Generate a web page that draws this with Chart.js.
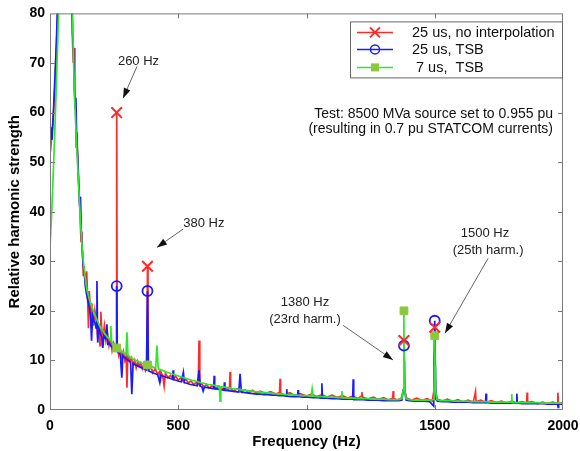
<!DOCTYPE html>
<html>
<head>
<meta charset="utf-8">
<script src="https://cdn.jsdelivr.net/npm/chart.js@4.4.1/dist/chart.umd.min.js"></script>
<style>
  html, body { margin: 0; padding: 0; background: #fff; }
  canvas { display: block; }
</style>
</head>
<body>
<canvas id="chart" width="580" height="451"></canvas>
<script>
// spectra, [frequency Hz, relative strength]
const red = [
  [0,55],[4,53.5],[8,56],[14,60],[20,66],[26,74],[32,84],[45,150],[60,400],[75,150],[84,86],[88,74],[91,70],[94,73],
  [97,62],[100,60],[102,53],[105,56],[109,49],[112,45],[115,42],[118,38],[121,34],[124,36],[127,31],[130,27],[133,29],
  [137,26],[140,24.5],[143,28],[147,22],[150,16.5],[153,24],[157,21],[160,16.8],[163,21.5],[170,17],[175,20],[180,18],
  [185,15],[190,17],[195,13],[198,19.8],[202,16],[207,15],[212,17],[218,14],[224,15.5],[230,13],[236,14.5],[242,12],
  [248,13.5],[254,12.5],[258,12.2],[260,60],[262,12.5],[268,11],[274,12.5],[280,10.5],[286,11.8],[292,10],[297,11],
  [300,4.5],[303,10.5],[306,10.8],[312,9.8],[318,10.5],[324,9],[330,10],[336,8.5],[342,9.8],[348,8.8],[354,9.5],
  [360,8.3],[366,9.2],[372,8],[378,9],[380,29],[382,8.6],[388,8.2],[394,8.8],[400,7.5],[410,8.3],[420,7.2],[428,7.8],
  [430,5.5],[433,7.6],[440,6.8],[445,4.8],[450,7.4],[460,6.5],[470,7],[480,6.2],[490,6.8],[500,6.0],[510,6.5],
  [520,5.7],[530,6.2],[540,5.4],[550,5.9],[560,5.1],[570,5.6],[578,5.2],[581,14],[584,5.0],[592,5.3],[600,4.6],
  [610,5.2],[620,4.4],[632,4.9],[645,4.3],[658,4.8],[670,4.1],[682,4.6],[694,4.0],[700,4.5],[702,7.7],[704,4.3],
  [716,3.8],[730,4.3],[745,3.7],[760,4.1],[775,3.5],[790,4.0],[805,3.4],[820,3.8],[840,3.3],[860,3.7],[880,3.2],
  [895,3.5],[897,6.3],[899,3.4],[915,3.0],[935,3.5],[955,2.9],[975,3.3],[1000,2.8],[1020,3.2],[1040,2.7],[1060,3.1],
  [1080,2.6],[1100,3.0],[1120,2.5],[1140,2.9],[1160,2.4],[1180,2.8],[1200,2.3],[1214,2.8],[1216,3.6],[1218,2.6],
  [1240,2.2],[1260,2.6],[1280,2.1],[1300,2.5],[1320,2.0],[1336,2.4],[1338,3.8],[1340,2.3],[1355,2.0],[1370,2.4],
  [1377,4],[1380,14],[1383,4],[1390,2.4],[1410,2.0],[1430,2.4],[1450,1.9],[1470,2.3],[1490,1.8],[1497,4],[1500,16.7],
  [1503,4],[1510,2.2],[1530,1.8],[1550,2.2],[1570,1.7],[1590,2.1],[1610,1.6],[1630,2.0],[1650,1.6],[1659,3.7],
  [1661,1.7],[1680,2.0],[1700,1.5],[1720,1.9],[1740,1.5],[1760,1.8],[1780,1.4],[1800,1.8],[1820,1.4],[1840,1.7],
  [1858,1.4],[1860,3.5],[1862,1.5],[1880,1.7],[1900,1.3],[1920,1.6],[1940,1.3],[1960,1.6],[1978,1.3],[1980,3.5],
  [1982,1.3],[2000,1.5]
];

const blue = [
  [0,55],[4,57],[8,54.5],[14,61],[20,68],[26,76],[32,86],[45,160],[60,420],[75,160],[84,88],[88,76],[92,72],[95,65],
  [98,61],[101,63],[104,55],[108,51],[112,46],[116,41],[119,43],[122,36],[126,32],[130,29],[134,27.5],[138,25],
  [142,23.5],[146,22.5],[150,21.5],[154,20.5],[158,19],[162,14],[166,19],[171,18],[176,17.5],[180,16.5],[183,26],
  [186,13.6],[190,16.5],[196,15.5],[202,14.8],[206,12.5],[210,15],[216,14.5],[222,17.3],[225,13.3],[230,13.5],
  [236,13],[242,12.6],[248,12.3],[254,12.1],[258,12],[260,25],[262,11.8],[268,11.5],[274,11.2],[280,6.5],[284,10.9],
  [290,10.6],[296,10.4],[302,10.1],[308,9.9],[314,9.7],[319,3.2],[324,9.4],[330,9.2],[338,9],[346,8.8],[354,8.6],
  [362,8.4],[370,8.2],[376,8.1],[380,24],[384,7.9],[392,7.7],[400,7.5],[410,7.3],[420,7.1],[428,5.5],[432,7],
  [442,6.8],[452,6.6],[462,6.5],[472,6.3],[478,6.2],[480,8],[482,6.1],[492,6.0],[502,5.8],[512,5.7],[520,7.6],
  [524,5.5],[534,5.4],[544,5.2],[554,5.1],[564,5.0],[574,4.9],[581,8],[586,4.8],[592,4.7],[597,3.8],[602,4.6],
  [614,4.5],[626,4.4],[638,4.3],[640,6.9],[642,4.3],[654,4.2],[666,4.1],[678,4.0],[680,5.6],[682,4.0],[694,3.9],
  [708,3.8],[722,3.7],[736,3.6],[741,7.3],[746,3.6],[760,3.5],[775,3.4],[790,3.3],[805,3.2],[820,3.2],[835,3.1],
  [850,3.1],[865,3.0],[880,3.0],[895,2.9],[910,2.9],[921,2.8],[923,4.2],[925,2.8],[945,2.7],[965,2.7],[967,4.0],
  [969,2.7],[985,2.6],[1005,2.6],[1025,2.5],[1045,2.5],[1058,2.4],[1060,5.4],[1062,2.4],[1080,2.4],[1100,2.3],
  [1120,2.3],[1140,2.2],[1160,2.2],[1180,2.2],[1182,6.2],[1184,2.1],[1200,2.1],[1220,2.1],[1240,2.0],[1260,2.0],
  [1280,2.0],[1300,1.9],[1320,1.9],[1340,1.9],[1360,1.9],[1372,2.0],[1377,4],[1380,13],[1383,4],[1388,2.0],
  [1400,1.9],[1420,1.8],[1440,1.8],[1460,1.8],[1480,1.7],[1496,0.8],[1500,18],[1504,2.2],[1510,1.8],[1530,1.7],
  [1550,1.7],[1570,1.6],[1590,1.6],[1610,1.6],[1630,1.6],[1650,1.5],[1670,1.5],[1690,1.5],[1698,1.5],[1700,3.3],
  [1702,1.5],[1720,1.4],[1740,1.4],[1760,1.4],[1780,1.4],[1800,1.4],[1818,1.4],[1820,3.3],[1822,1.4],[1840,1.3],
  [1860,1.3],[1880,1.3],[1900,1.3],[1920,1.3],[1940,1.2],[1960,1.2],[1979,1.2],[1981,0.5],[1983,1.2],[2000,1.2]
];

const green = [
  [0,33],[5,38],[10,44],[15,51],[20,58],[25,66],[30,74],[35,83],[45,160],[60,450],[75,170],[84,92],[88,79],[92,70],
  [96,63],[100,58],[105,52],[110,47],[115,42],[120,37],[125,33],[130,30],[135,27.5],[140,25.5],[145,24],[150,23],
  [156,22],[162,21],[170,19.8],[178,18.8],[186,17.8],[194,17],[202,16.3],[210,15.7],[218,15.1],[226,14.6],[234,14.1],
  [237,17],[240,13.8],[248,13.3],[254,13],[260,12.6],[266,12.4],[272,12.1],[280,11.8],[288,11.5],[296,11.2],
  [300,15.7],[304,11],[312,10.7],[320,10.4],[328,10.2],[336,10],[344,9.8],[352,9.6],[360,9.4],[368,9.3],[374,9.2],
  [380,9.1],[388,8.9],[396,8.8],[404,8.6],[412,8.5],[417,13],[422,8.3],[432,8.1],[444,7.9],[456,7.6],[468,7.4],
  [480,7.2],[492,7.0],[504,6.8],[516,6.6],[528,6.4],[540,6.2],[552,6.0],[564,5.9],[576,5.7],[588,5.5],[600,5.4],
  [612,5.2],[624,5.1],[636,5.0],[648,4.9],[660,4.8],[663,1.8],[666,4.7],[680,4.6],[695,4.5],[710,4.3],[725,4.2],
  [740,4.1],[755,4.0],[770,3.9],[785,3.8],[800,3.7],[820,3.6],[840,3.5],[860,3.4],[880,3.3],[900,3.2],[920,3.1],
  [940,3.1],[960,3.0],[980,2.9],[1000,2.9],[1018,2.8],[1022,4.3],[1026,2.8],[1045,2.7],[1065,2.7],[1085,2.6],
  [1105,2.6],[1125,2.5],[1136,2.5],[1138,3.8],[1140,2.5],[1160,2.4],[1180,2.4],[1200,2.3],[1220,2.3],[1240,2.3],
  [1260,2.2],[1280,2.2],[1300,2.2],[1320,2.1],[1340,2.1],[1360,2.1],[1372,2.3],[1377,4],[1379,10],[1380,20],
  [1381,10],[1383,4],[1388,2.3],[1400,2.1],[1420,2.0],[1440,2.0],[1460,2.0],[1480,2.0],[1494,2.1],[1497,4],[1499,9],
  [1500,15],[1501,9],[1503,4],[1508,2.1],[1520,1.9],[1540,1.9],[1560,1.9],[1580,1.8],[1600,1.8],[1620,1.8],
  [1640,1.7],[1660,1.7],[1680,1.7],[1700,1.7],[1720,1.6],[1740,1.6],[1760,1.6],[1780,1.6],[1798,1.6],[1800,3.2],
  [1802,1.5],[1820,1.5],[1840,1.5],[1860,1.5],[1880,1.5],[1900,1.5],[1920,1.4],[1940,1.4],[1960,1.4],[1980,1.4],
  [2000,1.4]
];

// harmonic markers
const redMarks   = [[260,60],[380,29],[1380,14],[1500,16.7]];
const blueMarks  = [[260,25],[380,24],[1380,13],[1500,18]];
const greenMarks = [[260,12.5],[380,9.1],[1380,20],[1500,15]];

const legendLabels = ['25 us, no interpolation', '25 us, TSB', ' 7 us,  TSB'];
const noteLines = ['Test: 8500 MVa source set to 0.955 pu', '(resulting in 0.7 pu STATCOM currents)'];

const RED = '#ff2a2a', BLUE = '#1a1aff', GREEN = '#2ee82e', SQUARE = '#8cc83c';
const FONT = '"Liberation Sans", Arial, sans-serif';

const toXY = arr => arr.map(p => ({x: p[0], y: p[1]}));

function drawX(ctx, x, y, r) {
  ctx.beginPath();
  ctx.moveTo(x - r, y - r); ctx.lineTo(x + r, y + r);
  ctx.moveTo(x - r, y + r); ctx.lineTo(x + r, y - r);
  ctx.stroke();
}

function arrow(ctx, x1, y1, x2, y2) {
  ctx.save();
  ctx.strokeStyle = '#666';
  ctx.lineWidth = 1;
  ctx.beginPath(); ctx.moveTo(x1, y1); ctx.lineTo(x2, y2); ctx.stroke();
  const ang = Math.atan2(y2 - y1, x2 - x1), len = 10, half = 3.5;
  const bx = x2 - Math.cos(ang) * len, by = y2 - Math.sin(ang) * len;
  ctx.fillStyle = '#111';
  ctx.beginPath();
  ctx.moveTo(x2, y2);
  ctx.lineTo(bx + Math.sin(ang) * half, by - Math.cos(ang) * half);
  ctx.lineTo(bx - Math.sin(ang) * half, by + Math.cos(ang) * half);
  ctx.closePath(); ctx.fill();
  ctx.restore();
}

const frame = {
  id: 'frame',
  afterDatasetsDraw(chart) {
    const {ctx, chartArea: a, scales: {x, y}} = chart;
    ctx.save();
    // box and inner ticks
    ctx.strokeStyle = '#7a7a7a';
    ctx.lineWidth = 1;
    ctx.strokeRect(a.left + 0.5, a.top + 0.5, a.right - a.left - 1, a.bottom - a.top - 1);
    ctx.beginPath();
    [500, 1000, 1500].forEach(v => {
      const px = Math.round(x.getPixelForValue(v)) + 0.5;
      ctx.moveTo(px, a.bottom); ctx.lineTo(px, a.bottom - 5);
      ctx.moveTo(px, a.top); ctx.lineTo(px, a.top + 5);
    });
    [10, 20, 30, 40, 50, 60, 70].forEach(v => {
      const py = Math.round(y.getPixelForValue(v)) + 0.5;
      ctx.moveTo(a.left, py); ctx.lineTo(a.left + 5, py);
      ctx.moveTo(a.right, py); ctx.lineTo(a.right - 5, py);
    });
    ctx.stroke();

    // legend
    const lx = a.right - 213, ly = a.top + 8;
    ctx.fillStyle = '#fff';
    ctx.fillRect(lx, ly, 212, 56);
    ctx.strokeStyle = '#666';
    ctx.strokeRect(lx + 0.5, ly + 0.5, 212, 56);
    const rows = [ly + 11, ly + 28, ly + 46];
    const cols = [RED, BLUE, GREEN];
    ctx.font = '14.5px ' + FONT;
    ctx.textBaseline = 'middle';
    rows.forEach((ry, i) => {
      ctx.strokeStyle = cols[i];
      ctx.lineWidth = 1.5;
      ctx.beginPath(); ctx.moveTo(lx + 7, ry); ctx.lineTo(lx + 43, ry); ctx.stroke();
      const mx = lx + 25;
      if (i === 0) { ctx.lineWidth = 2; drawX(ctx, mx, ry, 5); }
      if (i === 1) { ctx.lineWidth = 1.5; ctx.beginPath(); ctx.arc(mx, ry, 4.5, 0, Math.PI * 2); ctx.stroke(); }
      if (i === 2) { ctx.fillStyle = SQUARE; ctx.fillRect(mx - 4, ry - 4, 8, 8); }
      ctx.fillStyle = '#111';
      ctx.textAlign = 'left';
      ctx.fillText(legendLabels[i], lx + 62, ry + 1);
    });

    // test note
    ctx.font = '14px ' + FONT;
    ctx.textAlign = 'right';
    ctx.fillStyle = '#111';
    ctx.fillText(noteLines[0], x.getPixelForValue(1961), y.getPixelForValue(59.6));
    ctx.fillText(noteLines[1], x.getPixelForValue(1961), y.getPixelForValue(56.6));

    // annotations with arrows
    ctx.font = '13px ' + FONT;
    const P = (f, v) => [x.getPixelForValue(f), y.getPixelForValue(v)];
    ctx.textAlign = 'center';
    ctx.fillStyle = '#222';
    const txt = (s, f, v) => { const p = P(f, v); ctx.fillText(s, p[0], p[1]); };
    txt('260 Hz', 345, 70.3);
    txt('380 Hz', 600, 37.7);
    txt('1380 Hz', 994, 21.6);
    txt('(23rd harm.)', 994, 18.3);
    txt('1500 Hz', 1696, 35.7);
    txt('(25th harm.)', 1708, 32.2);
    arrow(ctx, ...P(339, 69.3), ...P(285, 62.9));
    arrow(ctx, ...P(519, 36.5), ...P(417, 32.8));
    arrow(ctx, ...P(1142, 17.1), ...P(1337, 10.1));
    arrow(ctx, ...P(1708, 30.6), ...P(1540, 15.5));
    ctx.restore();
  }
};

const tickFont = {family: FONT, size: 14, weight: 'bold'};
const titleFont = {family: FONT, size: 15, weight: 'bold'};

new Chart(document.getElementById('chart'), {
  type: 'line',
  data: {
    datasets: [
      {data: toXY(redMarks), showLine: false, pointStyle: 'crossRot', pointRadius: 7.5, borderColor: RED, borderWidth: 2},
      {data: toXY(blueMarks), showLine: false, pointStyle: 'circle', pointRadius: 5, borderColor: BLUE,
       backgroundColor: 'rgba(0,0,0,0)', borderWidth: 1.8},
      {data: toXY(greenMarks), showLine: false, pointStyle: 'rect', pointRadius: 5.5, borderColor: SQUARE,
       backgroundColor: SQUARE, borderWidth: 1},
      {data: toXY(green), borderColor: GREEN, borderWidth: 1.7, pointRadius: 0, tension: 0},
      {data: toXY(blue), borderColor: BLUE, borderWidth: 1.7, pointRadius: 0, tension: 0},
      {data: toXY(red), borderColor: RED, borderWidth: 1.7, pointRadius: 0, tension: 0}
    ]
  },
  options: {
    responsive: false,
    animation: false,
    layout: {padding: {top: 13, right: 17, left: 0, bottom: 0}},
    plugins: {legend: {display: false}, tooltip: {enabled: false}},
    scales: {
      x: {
        type: 'linear', min: 0, max: 2000,
        ticks: {stepSize: 500, padding: 8, color: '#000', font: tickFont, maxRotation: 0, callback: v => String(v)},
        grid: {display: false, drawTicks: false},
        border: {display: false},
        title: {display: true, text: 'Frequency (Hz)', color: '#000', font: titleFont, padding: {top: 2, bottom: 0}},
        afterFit(s) { s.height = 41; s.paddingLeft = 0; s.paddingRight = 0; }
      },
      y: {
        min: 0, max: 80,
        ticks: {stepSize: 10, padding: 5, color: '#000', font: tickFont, callback: v => String(v)},
        grid: {display: false, drawTicks: false},
        border: {display: false},
        title: {display: true, text: 'Relative harmonic strength', color: '#000', font: titleFont, padding: {top: 6, bottom: 0}},
        afterFit(s) { s.width = 50; }
      }
    }
  },
  plugins: [frame]
});
</script>
</body>
</html>
